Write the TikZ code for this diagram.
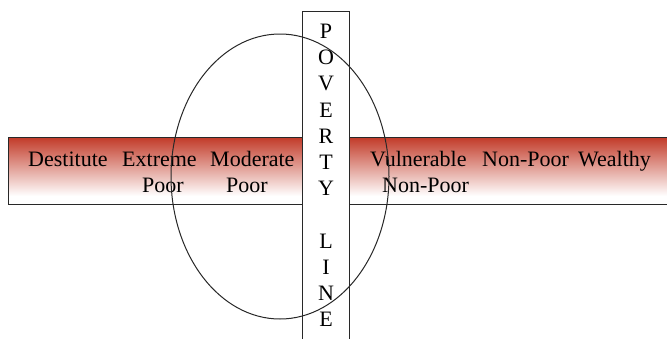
\documentclass[tikz,border=0pt]{standalone}
\usepackage{fontspec}
\setmainfont{Liberation Serif}
\definecolor{bandred}{RGB}{194,58,40}
\definecolor{linegray}{RGB}{40,40,40}
\pgfdeclareverticalshading{bandshade}{100bp}{color(0bp)=(white); color(31bp)=(white); color(75bp)=(bandred); color(100bp)=(bandred)}
\tikzset{
  lbl/.style={anchor=base west, inner sep=0pt, font=\rmfamily\fontsize{22}{26}\selectfont, text=black},
  letter/.style={anchor=base, inner sep=0pt, font=\rmfamily\fontsize{22}{26}\selectfont, text=black},
  frame/.style={draw=linegray, line width=1pt},
}
\begin{document}
\begin{tikzpicture}[x=1pt,y=-1pt]
\useasboundingbox (0,0) rectangle (667,338);
\clip (0,0) rectangle (667,338);
% horizontal band
\shade[shading=bandshade] (8,137) rectangle (675,204);
\draw[frame] (675,137) -- (8,137) -- (8,204) -- (675,204);
% poverty line column
\node[frame, fill=white, minimum width=47pt, minimum height=340pt, inner sep=0pt, anchor=north] (col) at (325.5,11) {};
\foreach \ch [count=\i from 0] in {P,O,V,E,R,T,Y,{},L,I,N,E}{
  \node[letter] (l\i) at (326,38.5+26.2*\i) {\ch};
}
% labels
\node[lbl] (destitute) at (28,166) {Destitute};
\node[lbl] (extreme) at (122,166) {Extreme};
\node[lbl] (moderate) at (210,166) {Moderate};
\node[lbl] (poor1) at (142,192) {Poor};
\node[lbl] (poor2) at (226,192) {Poor};
\node[lbl] (vulnerable) at (370,166) {Vulnerable};
\node[lbl] (nonpoor) at (482,166) {Non-Poor};
\node[lbl] (wealthy) at (578,166) {Wealthy};
\node[lbl] (nonpoor2) at (382,192) {Non-Poor};
% ellipse
\draw[linegray, line width=1pt] (280,176.5) ellipse [x radius=109, y radius=142.5];
\end{tikzpicture}
\end{document}
